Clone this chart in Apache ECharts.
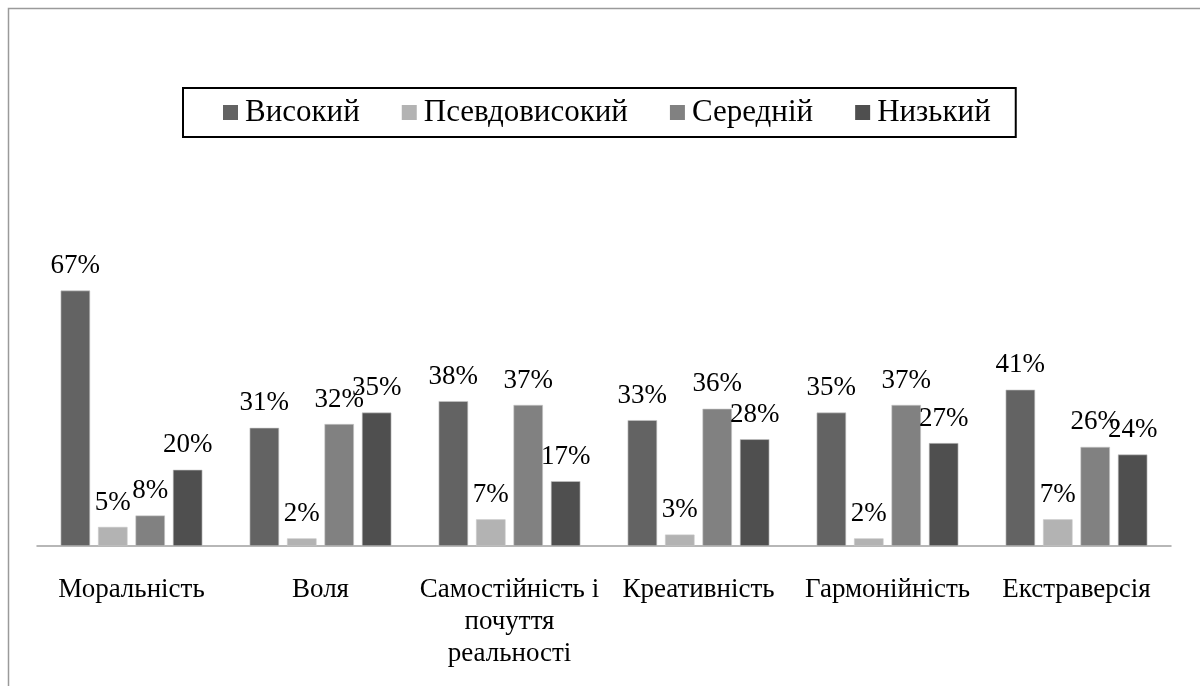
<!DOCTYPE html>
<html><head><meta charset="utf-8">
<script src="https://cdn.jsdelivr.net/npm/echarts@6/dist/echarts.min.js"></script>
<style>html,body{margin:0;padding:0;background:#fff}#c{width:1200px;height:686px}</style>
</head><body><div id="c"></div>
<script>
const categories = ['Моральність', 'Воля', 'Самостійність і\nпочуття\nреальності', 'Креативність', 'Гармонійність', 'Екстраверсія'];
const seriesNames = ['Високий', 'Псевдовисокий', 'Середній', 'Низький'];
const vysokyi = [67, 31, 38, 33, 35, 41];
const psevdo = [5, 2, 7, 3, 2, 7];
const serednii = [8, 32, 37, 36, 37, 26];
const nyzkyi = [20, 35, 17, 28, 27, 24];
const colors = ['#636363', '#b3b3b3', '#818181', '#4f4f4f'];
const values = [vysokyi, psevdo, serednii, nyzkyi];
const font = 'Liberation Serif, Times New Roman, serif';

const chart = echarts.init(document.getElementById('c'));
chart.setOption({
  animation: false,
  color: colors,
  graphic: [{
    type: 'rect', shape: {x: 8.5, y: 8.5, width: 1300, height: 800},
    style: {fill: 'none', stroke: '#9a9a9a', lineWidth: 1.5}, silent: true
  }],
  legend: {
    top: 88, left: 183,
    data: seriesNames,
    icon: 'rect', itemWidth: 15, itemHeight: 15, itemGap: 42,
    itemStyle: {borderWidth: 0},
    padding: [9, 25, 9, 40],
    borderColor: '#000', borderWidth: 2,
    textStyle: {fontFamily: font, fontSize: 31, color: '#000', padding: [0, 0, 0, 2]}
  },
  grid: {left: 37, right: 29, top: 241, bottom: 140, containLabel: false},
  xAxis: {
    type: 'category', data: categories,
    axisLine: {lineStyle: {color: '#a0a0a0', width: 1.5}},
    axisTick: {show: false},
    axisLabel: {fontFamily: font, fontSize: 27, color: '#000', margin: 28, lineHeight: 32, interval: 0}
  },
  yAxis: {type: 'value', min: 0, max: 80, show: false, splitLine: {show: false}},
  series: values.map((v, i) => ({
    name: seriesNames[i], type: 'bar', data: v,
    barCategoryGap: '25%', barGap: '27%',
    itemStyle: {color: colors[i], borderColor: '#c8c8c8', borderWidth: 0.6},
    label: {show: true, position: 'top', distance: 11, formatter: '{c}%', fontFamily: font, fontSize: 27, color: '#000'}
  }))
});
</script></body></html>
